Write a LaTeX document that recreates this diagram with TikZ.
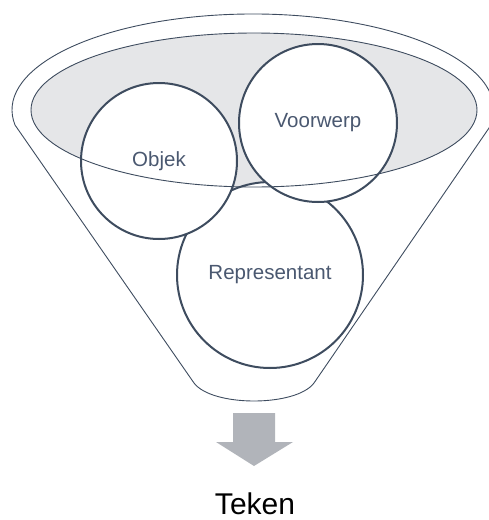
\documentclass[tikz,border=0pt]{standalone}
\usepackage{fontspec}
\setmainfont{Liberation Sans}
\usepackage{tikz}
\definecolor{slate}{HTML}{3E4C5F}
\definecolor{labeltext}{HTML}{4A5870}
\definecolor{rimgray}{HTML}{E5E6E8}
\definecolor{arrowgray}{HTML}{B1B4BA}
\tikzstyle{bubble}  = [circle, draw=slate, line width=2pt, fill=white,
                       text=labeltext, inner sep=0pt,
                       font=\fontsize{20.5}{24}\selectfont]
\tikzstyle{rim}     = [draw=slate, line width=0.9pt]
\tikzstyle{outtext} = [text=black, inner sep=0pt,
                       font=\fontsize{30}{34}\selectfont]

\begin{document}
\begin{tikzpicture}[x=1pt, y=-1pt]
\useasboundingbox (0,0) rectangle (489,520);
% funnel mouth
\fill [rimgray] (254,110) ellipse [x radius=223, y radius=77];

\node (rep) [bubble, minimum size=186pt] at (270,275) {Representant};
\node (obj) [bubble, minimum size=156pt] at (159,161) {Objek};
\node (voo) [bubble, minimum size=158pt] at (318,123) {Voorwerp};

% outlines over the circles
\draw [rim] (254,110) ellipse [x radius=223, y radius=77];
\draw [rim] (15,125) arc [start angle=171, end angle=369,
                          x radius=241, y radius=96]
            -- (314,383) .. controls (296,407) and (212,407) .. (194,383)
            -- cycle;

\fill [arrowgray] (233,413) -- (275,413) -- (275,442) -- (293,442)
                  -- (254,466) -- (216,442) -- (233,442) -- cycle;
\node (tek) [outtext, anchor=base] at (255,514) {Teken};
\end{tikzpicture}
\end{document}
